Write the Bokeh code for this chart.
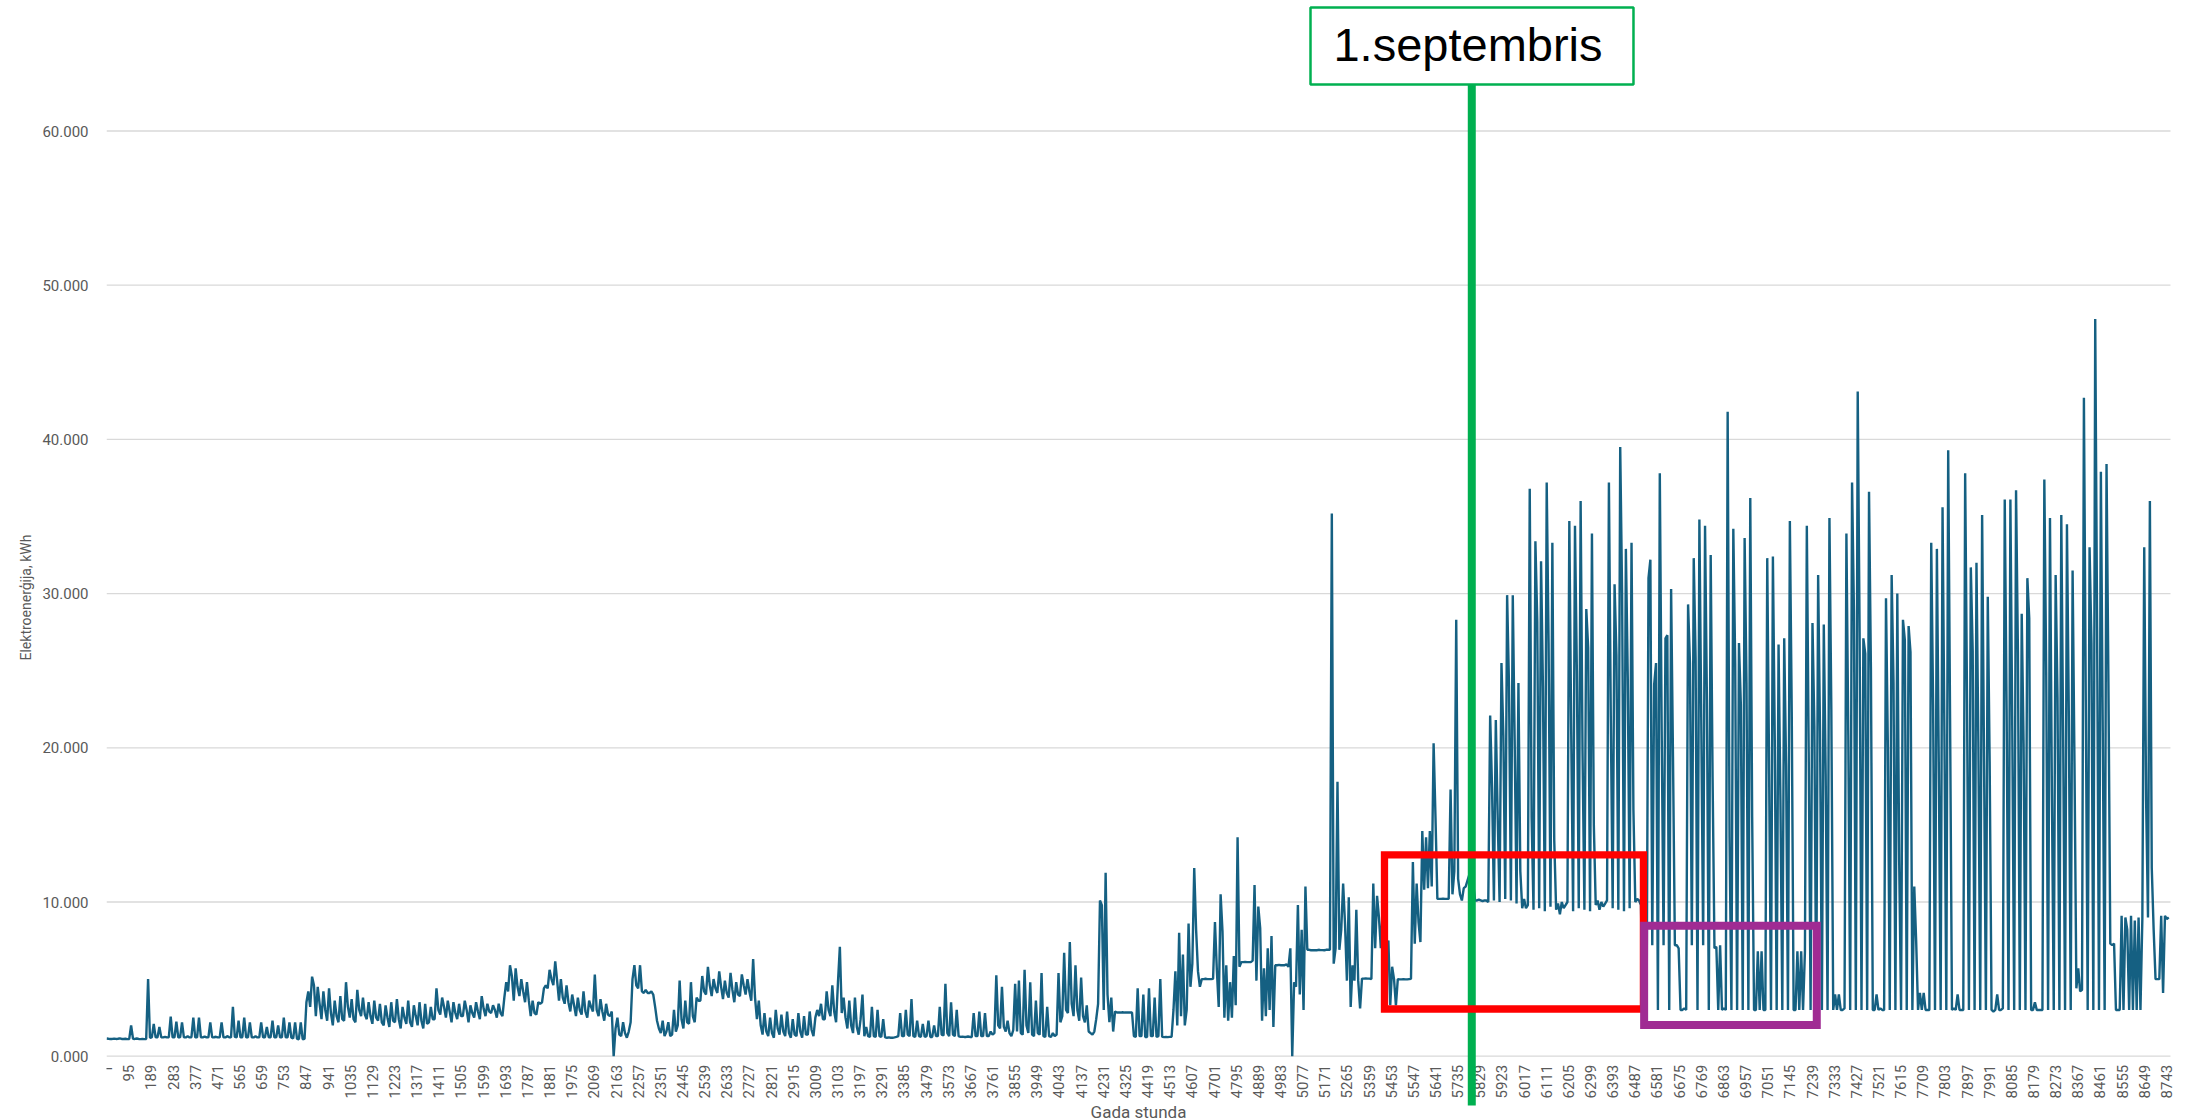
import math
from bokeh.plotting import figure
from bokeh.models import FixedTicker, Title
from bokeh.core.properties import value
from bokeh.embed import file_html
from bokeh.resources import INLINE

# ---------------- data: hourly consumption, read as 3 samples per day (every 8 h) ----------------
jan = [1.15, 1.13, 1.12, 1.12, 1.14, 1.12, 1.13, 1.16, 1.12, 1.12, 1.13, 1.11,
       1.12, 2.0, 1.13, 1.12, 1.15, 1.12, 1.11, 1.12, 1.11, 1.12, 5.0, 1.2,
       1.22, 2.1, 1.22, 1.23, 1.9, 1.22, 1.22, 1.25, 1.22, 1.23, 2.56, 1.22,
       1.22, 2.24, 1.23, 1.22, 2.2, 1.22, 1.22, 1.3, 1.22, 1.23, 2.5, 1.22,
       1.22, 2.5, 1.23, 1.22, 1.28, 1.22, 1.22, 2.2, 1.22, 1.23, 1.26, 1.22,
       1.22, 2.2, 1.22, 1.22, 1.3, 1.23, 1.22, 3.2, 1.25, 1.22, 2.3, 1.22,
       1.23, 2.5, 1.22, 1.22, 2.2, 1.23, 1.22, 1.3, 1.22, 1.22, 2.2, 1.22,
       1.23, 1.9, 1.22, 1.22, 2.3, 1.22, 1.22, 2.0, 1.23]
feb = [1.22, 2.5, 1.22, 1.22, 2.2, 1.2, 1.15, 2.2, 1.12, 1.1, 2.2, 1.1,
       1.12, 3.5, 4.2, 3.2, 5.16, 4.6, 2.6, 4.5, 3.4, 2.4, 4.2, 3.0,
       2.3, 4.4, 2.8, 2.0, 3.6, 2.6, 2.2, 3.9, 2.4, 2.3, 4.8, 3.2,
       2.5, 3.7, 2.4, 2.2, 4.3, 3.0, 2.6, 3.8, 2.7, 2.4, 3.5, 2.6,
       2.1, 3.6, 2.5, 2.3, 3.4, 2.2, 2.0, 3.3, 2.5, 1.9, 3.5, 2.3,
       2.2, 3.7, 2.4, 1.8, 3.2, 2.5, 2.1, 3.6, 2.2, 1.9, 3.3, 2.6,
       2.0, 3.5, 2.3, 1.8, 3.4, 2.1, 2.2, 3.2, 2.4, 2.4, 4.4, 3.0]
mar = [2.7, 3.8, 3.2, 2.5, 3.6, 2.9, 2.2, 3.5, 2.8, 2.4, 3.4, 2.6,
       2.6, 3.6, 3.0, 2.2, 3.3, 2.8, 2.5, 3.5, 2.9, 2.4, 3.9, 3.1,
       2.6, 3.4, 2.9, 2.8, 3.3, 3.0, 2.5, 3.4, 2.8, 2.6, 3.8, 4.8,
       4.2, 5.9, 5.2, 3.6, 5.7, 4.5, 3.9, 5.0, 4.2, 3.5, 4.8, 3.6,
       2.6, 3.6, 2.8, 2.7, 3.5, 3.4, 3.5, 4.4, 4.6, 4.4, 5.6, 5.0,
       4.6, 6.15, 4.9, 3.6, 5.0, 3.8, 3.4, 4.6, 3.5, 2.9, 4.0, 3.3,
       2.6, 3.8, 3.0, 2.7, 4.2, 2.9, 2.5, 3.6, 3.2, 2.9, 5.3, 3.0,
       2.6, 3.7, 2.9, 2.3, 3.4, 2.7, 2.6, 2.9, 0.0]
apr = [1.8, 2.5, 1.4, 1.3, 2.2, 1.5, 1.2, 1.6, 2.2, 5.0, 5.9, 4.6,
       4.4, 5.9, 4.2, 4.1, 4.3, 4.1, 4.1, 4.2, 4.0, 3.2, 2.3, 1.8,
       1.5, 2.3, 1.3, 1.6, 2.2, 1.3, 1.4, 3.0, 1.6, 2.0, 4.9, 2.4,
       1.8, 3.6, 2.2, 2.1, 4.8, 2.6, 2.2, 3.8, 3.6, 3.6, 5.2, 4.2,
       4.0, 5.8, 4.6, 3.9, 5.0, 4.4, 4.1, 5.5, 4.5, 3.7, 4.9, 4.1,
       3.8, 5.4, 4.3, 3.5, 4.8, 4.0, 3.9, 5.3, 4.6, 4.0, 5.0, 4.2,
       3.6, 6.3, 3.8, 2.4, 3.6, 2.0, 1.4, 2.8, 1.6, 1.3, 2.5, 1.5,
       1.2, 3.0, 1.8, 1.4, 2.7, 1.6]
may = [1.3, 2.9, 1.5, 1.2, 2.4, 1.4, 1.3, 2.8, 1.6, 1.2, 2.6, 1.4,
       1.4, 2.9, 1.7, 1.3, 2.5, 3.0, 2.6, 3.4, 2.4, 2.4, 4.2, 3.0,
       2.6, 4.6, 2.9, 2.2, 4.8, 7.1, 2.8, 3.8, 2.5, 1.8, 3.6, 2.0,
       1.5, 3.8, 1.9, 1.4, 2.4, 4.0, 1.3, 1.9, 1.3, 1.25, 3.2, 1.3,
       1.25, 3.0, 1.3, 1.25, 2.4, 1.22, 1.2, 1.22, 1.2, 1.2, 1.22, 1.25,
       1.3, 2.8, 1.3, 1.3, 3.0, 1.4, 1.3, 3.7, 1.3, 1.25, 2.3, 1.3,
       1.25, 2.1, 1.25, 1.3, 2.3, 1.25, 1.25, 2.0, 1.3, 1.3, 3.2, 1.4,
       1.35, 4.7, 1.5, 1.3, 3.5, 1.4, 1.3, 3.0, 1.3]
jun = [1.25, 1.27, 1.25, 1.25, 1.28, 1.25, 1.25, 2.8, 1.3, 1.3, 2.9, 1.3,
       1.3, 2.8, 1.3, 1.3, 1.6, 1.4, 1.5, 5.25, 2.0, 1.8, 4.5, 1.9,
       1.6, 2.3, 1.5, 1.3, 1.7, 4.7, 1.6, 4.9, 1.5, 1.4, 5.6, 2.0,
       1.5, 4.8, 1.4, 1.3, 3.6, 1.5, 1.4, 5.4, 1.3, 1.25, 3.2, 1.3,
       1.25, 1.5, 1.3, 1.4, 5.4, 2.2, 2.6, 6.7, 3.0, 2.8, 7.4, 3.4,
       2.6, 5.9, 3.0, 2.3, 5.1, 2.6, 2.2, 3.3, 1.6, 1.5, 1.4, 1.6,
       2.4, 3.4, 10.1, 9.8, 3.0, 11.9, 4.0, 2.2, 3.8, 1.6, 2.9, 2.83,
       2.83, 2.83, 2.85, 2.83, 2.84, 2.83]
jul = [2.83, 2.83, 1.3, 1.25, 4.4, 1.3, 1.3, 4.0, 1.25, 1.25, 4.4, 1.3,
       1.3, 3.8, 1.25, 1.3, 5.0, 1.25, 1.24, 1.25, 1.24, 1.25, 1.26, 3.0,
       5.5, 2.0, 8.0, 2.6, 6.6, 2.0, 3.0, 8.6, 4.5, 6.0, 12.2, 8.2,
       5.5, 4.5, 5.0, 5.0, 5.02, 5.0, 5.0, 5.0, 5.02, 8.7, 5.6, 3.2,
       10.5, 8.1, 2.5, 5.9, 2.3, 4.8, 2.5, 6.5, 3.3, 14.2, 5.8, 6.1,
       6.1, 6.12, 6.1, 6.1, 6.1, 6.2, 11.1, 4.9, 9.7, 8.3, 2.3, 5.7,
       2.6, 7.0, 3.0, 7.8, 1.9, 5.9, 5.9, 5.92, 5.9, 5.9, 5.9, 5.95,
       5.8, 7.0, 0.0, 4.8, 4.5, 9.8, 4.0, 8.2, 3.0]
aug = [11.0, 6.9, 6.9, 6.87, 6.88, 6.87, 6.87, 6.9, 6.88, 6.88, 6.87, 6.9,
       6.9, 6.9, 35.2, 6.0, 7.0, 17.8, 6.9, 8.2, 11.2, 8.6, 4.9, 10.3,
       3.2, 5.9, 4.9, 9.5, 4.9, 3.1, 5.03, 5.03, 5.05, 5.03, 5.03, 5.0,
       11.2, 7.0, 10.4, 9.0, 7.0, 9.5, 7.8, 7.0, 7.5, 3.3, 5.8, 5.0,
       3.3, 5.0, 4.98, 4.98, 5.0, 4.98, 4.98, 5.0, 5.02, 12.6, 7.3, 11.2,
       8.7, 7.4, 14.6, 10.8, 14.2, 10.9, 14.6, 11.0, 20.3, 15.5, 10.2, 10.2,
       10.2, 10.22, 10.2, 10.2, 10.2, 17.3, 10.5, 12.0, 28.3, 11.5, 10.5, 10.1,
       10.9, 11.0, 11.4, 11.8, 12.6, 11.2, 10.1, 10.1, 10.15]
sep = [10.1, 10.05, 10.1, 10.1, 10.0, 22.1, 17.4, 10.1, 21.8, 15.5, 10.0, 25.5,
       20.8, 10.2, 29.9, 24.0, 10.1, 29.9, 20.5, 9.9, 24.2, 12.0, 9.6, 10.2,
       9.6, 9.8, 36.8, 15.5, 9.5, 33.4, 28.2, 9.6, 32.1, 24.0, 9.4, 37.2,
       26.8, 9.7, 33.3, 14.0, 9.5, 9.9, 9.2, 10.0, 9.6, 9.8, 10.0, 34.7,
       21.0, 9.4, 34.4, 25.0, 9.6, 36.0, 19.8, 9.5, 29.0, 26.5, 9.4, 33.9,
       15.0, 9.8, 10.1, 9.5, 10.0, 9.7, 9.9, 10.1, 37.2, 22.0, 9.6, 30.6,
       26.0, 9.5, 39.5, 30.0, 9.4, 32.9, 24.6, 9.6, 33.3, 16.0, 10.0, 10.2,
       10.1, 9.8, 3.3, 3.0, 3.2, 31.0]
oct_ = [32.2, 7.2, 24.1, 25.5, 3.0, 37.8, 21.1, 7.2, 27.1, 27.3, 3.0, 30.3,
        19.4, 7.2, 7.2, 7.0, 3.0, 3.0, 3.1, 3.0, 29.3, 25.5, 7.2, 32.3,
        25.8, 3.0, 34.8, 21.8, 7.2, 34.4, 23.1, 3.0, 32.5, 18.1, 7.0, 7.1,
        3.0, 7.2, 3.0, 3.1, 3.0, 41.8, 14.2, 3.0, 34.2, 25.5, 3.0, 26.8,
        22.8, 3.0, 33.6, 24.2, 3.0, 36.2, 15.5, 3.0, 3.0, 6.8, 3.0, 6.8,
        3.0, 3.0, 32.3, 18.3, 3.0, 32.4, 20.5, 3.0, 26.7, 16.6, 3.0, 27.1,
        18.8, 3.0, 34.7, 22.3, 3.0, 3.0, 6.8, 3.0, 6.8, 3.0, 6.8, 34.4,
        19.7, 3.0, 28.1, 21.4, 3.0, 31.2, 21.1, 3.0, 28.0]
nov = [18.3, 3.0, 34.9, 22.5, 3.0, 4.0, 3.0, 4.0, 3.0, 3.0, 3.1, 33.9,
       20.8, 3.0, 37.2, 28.8, 3.0, 43.1, 27.5, 3.0, 27.1, 26.1, 3.0, 36.6,
       25.2, 3.0, 3.0, 4.0, 3.0, 3.1, 3.0, 3.0, 29.7, 20.0, 3.0, 31.2,
       24.2, 3.0, 30.0, 12.6, 3.0, 28.3, 27.0, 3.0, 27.9, 26.2, 3.0, 11.0,
       7.5, 3.0, 4.1, 3.0, 4.1, 3.0, 3.0, 3.0, 33.3, 22.8, 3.0, 32.9,
       19.1, 3.0, 35.6, 20.8, 3.0, 39.3, 21.9, 3.0, 3.1, 3.0, 4.0, 3.0,
       3.0, 3.0, 37.8, 23.0, 3.0, 31.7, 26.3, 3.0, 32.0, 20.4, 3.0, 35.1,
       19.4, 3.0, 29.8, 19.1, 3.0, 2.9]
dec = [3.0, 4.0, 3.0, 3.0, 3.1, 36.1, 22.5, 3.0, 36.1, 21.1, 3.0, 36.7,
       26.2, 3.0, 28.7, 20.3, 3.0, 31.0, 28.4, 3.0, 3.0, 3.5, 3.0, 3.0,
       3.0, 3.0, 37.4, 24.9, 3.0, 34.9, 17.3, 3.0, 31.2, 23.3, 3.0, 35.1,
       20.5, 3.0, 34.5, 22.1, 3.0, 31.5, 19.0, 4.4, 5.7, 4.2, 4.3, 42.7,
       23.0, 3.0, 33.0, 26.8, 3.0, 47.8, 27.8, 3.0, 37.9, 21.1, 3.0, 38.4,
       24.3, 7.3, 7.2, 7.3, 3.0, 3.0, 3.0, 9.1, 3.0, 9.0, 8.2, 3.0,
       9.1, 3.0, 8.8, 3.0, 9.0, 3.0, 8.9, 33.0, 16.6, 9.0, 36.0, 12.2,
       8.2, 5.0, 5.0, 5.0, 9.1, 4.1, 9.1, 8.9, 9.0]

months = [jan, feb, mar, apr, may, jun, jul, aug, sep, oct_, nov, dec]
SAMPLE_STEP_H = 8
energy = [v for m in months for v in m]
hours = [1 + SAMPLE_STEP_H * i for i in range(len(energy))]

N_HOURS = 8760
x_tick_values = list(range(1, N_HOURS + 1, 94))   # category labels shown on the axis
y_tick_values = [0, 10, 20, 30, 40, 50, 60]
y_tick_labels = ["0.000", "10.000", "20.000", "30.000", "40.000", "50.000", "60.000"]

SEPT_HOUR = 5795                                   # "1.septembris" marker
red_box = dict(left=5424.5, right=6523.5, bottom=3.06, top=13.05)
purple_box = dict(left=6526.5, right=7259.2, bottom=2.03, top=8.46)

# ---------------- layout (page pixels -> data units) ----------------
W, H = 2188, 1120
FRAME_LEFT, PLOT_RIGHT = 106, 2170
ZERO_Y = 1055.7
PX_PER_UNIT = 15.42
PX_PER_HOUR = (PLOT_RIGHT - FRAME_LEFT) / N_HOURS


def yv(page_y):
    return (ZERO_Y - page_y) / PX_PER_UNIT


X_START = 0.5
X_END = X_START + (W - FRAME_LEFT) / PX_PER_HOUR    # frame runs to the page edge so the last label is not clipped
Y_MAX = yv(0)
Y_MIN = yv(H)

AXIS_FONT = "Roboto"
GREY = "#595959"

p = figure(width=W, height=H, x_range=(X_START, X_END), y_range=(Y_MIN, Y_MAX),
           output_backend="svg", toolbar_location=None, x_axis_location=None,
           min_border_left=FRAME_LEFT, min_border_right=0,
           min_border_top=0, min_border_bottom=0)
p.outline_line_color = None
p.background_fill_color = "white"
p.border_fill_color = "white"

for g in p.xgrid:
    g.visible = False
p.ygrid.visible = False
# horizontal gridlines over the category span only
p.segment(x0=[X_START] * len(y_tick_values), x1=[N_HOURS + 0.5] * len(y_tick_values),
          y0=y_tick_values, y1=y_tick_values, line_color="#D9D9D9", line_width=1.3)

ax = p.yaxis[0]
ax.ticker = FixedTicker(ticks=y_tick_values)
ax.major_label_overrides = {t: s for t, s in zip(y_tick_values, y_tick_labels)}
ax.axis_line_color = None
ax.major_tick_line_color = None
ax.minor_tick_line_color = None
ax.major_tick_out = 0
ax.major_label_standoff = 18
ax.major_label_text_color = GREY
ax.major_label_text_font = AXIS_FONT
ax.major_label_text_font_size = "15px"

# y axis title, start of text placed at page y ~660 (text centred near y=592)
p.add_layout(Title(text="Elektroenerģija, kWh", align="left", offset=H - 660,
                   text_font_size="14px", text_font_style="normal",
                   text_color=GREY, text_font=AXIS_FONT, standoff=11), "left")

# data line
p.line(hours, energy, line_color="#156082", line_width=2.4)

# x tick labels (rotated) and x title
LABEL_DROP = 8.5 / PX_PER_UNIT
p.text(x=x_tick_values, y=[-LABEL_DROP] * len(x_tick_values),
       text=[str(v) for v in x_tick_values], angle=math.pi / 2,
       text_align="right", text_baseline="middle", text_color=GREY,
       text_font=value(AXIS_FONT), text_font_size="15px")
p.text(x=[(N_HOURS + 1) / 2], y=[yv(1111)], text=["Gada stunda"],
       text_align="center", text_baseline="middle", text_color=GREY,
       text_font=value(AXIS_FONT), text_font_size="17px")

# September marker
box_bottom = yv(84)
box_top = yv(7)
p.segment(x0=[SEPT_HOUR], y0=[yv(1105)], x1=[SEPT_HOUR], y1=[box_bottom],
          line_color="#00B050", line_width=8)

# highlight boxes
p.quad(fill_alpha=0, line_color="#FF0000", line_width=7.3, line_join="miter",
       **{k: [v] for k, v in red_box.items()})
p.quad(fill_alpha=0, line_color="#A02B93", line_width=8, line_join="miter",
       **{k: [v] for k, v in purple_box.items()})

p.quad(left=[5110.5], right=[6481.3], bottom=[box_bottom], top=[box_top],
       fill_color="white", line_color="#00B050", line_width=2.5)
p.text(x=[5779], y=[yv(44)], text=["1.septembris"],
       text_align="center", text_baseline="middle", text_color="black",
       text_font=value("Liberation Sans"), text_font_size="47px")

open("out.html", "w").write(file_html(p, INLINE))
